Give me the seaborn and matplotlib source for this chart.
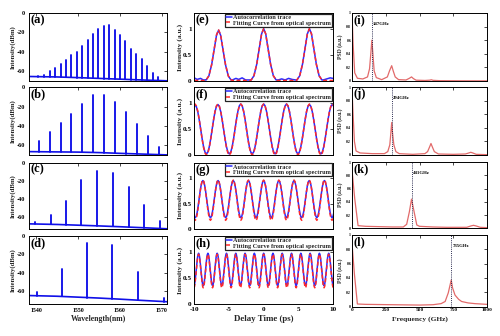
import numpy as np
import pandas as pd
import matplotlib
matplotlib.use("Agg")
import matplotlib.pyplot as plt
import seaborn as sns

# ====================== DATA ======================
# Column 1 : optical spectra, comb-line wavelengths (nm) and peak power (dBm)
wl_a = [1540.5, 1542.0, 1543.3, 1544.5, 1545.9, 1547.1, 1548.4, 1549.7, 1551.0, 1552.3, 1553.6, 1554.8,
        1556.1, 1557.4, 1558.7, 1560.0, 1561.3, 1562.6, 1563.9, 1565.2, 1566.5, 1567.8, 1569.1]
pk_a = [-65, -64, -60.6, -57, -53, -48.5, -44, -40, -34, -27.7, -21.8, -16.3,
        -13.9, -12.8, -17.3, -23.2, -29.5, -37, -42.3, -47.8, -54.8, -61.7, -66.5]
wl_b = [1540.7, 1543.3, 1545.9, 1548.4, 1551.0, 1553.6, 1556.2, 1558.8, 1561.4, 1564.0, 1566.6, 1569.2]
pk_b = [-56, -46.3, -37, -27.4, -17.2, -7.9, -7.5, -15, -26, -37.7, -50, -62]
wl_c = [1539.8, 1543.5, 1547.1, 1550.7, 1554.6, 1558.3, 1562.1, 1565.8, 1569.6]
pk_c = [-65.5, -57.5, -41.9, -18.9, -8.7, -10.9, -27.3, -46.2, -63.7]
wl_d = [1540.2, 1546.1, 1552.2, 1558.2, 1564.2, 1570.4]
pk_d = [-61.5, -35.8, -8.0, -9.8, -39.6, -68.0]
# noise floor readings
floor_x = [1538, 1545, 1550, 1555, 1560, 1565, 1572]
floor_a = [-65.8, -66.3, -67.0, -67.8, -68.6, -69.4, -70.4]
floor_b = [-66.5, -66.8, -67.0, -67.5, -68.3, -69.0, -70.0]
floor_c = [-67.3, -68.0, -68.8, -69.6, -70.5, -71.5, -72.9]
floor_d = [-65.2, -66.0, -67.0, -68.0, -69.2, -70.5, -72.2]
ybot_spec = [-70.5, -70.0, -73.0, -74.5]

# Column 2 : autocorrelation traces
# (e) isolated pulses: peak times, peak values, pulse profile
pk_t_e = [-6.5, 0.0, 6.6]
pk_v_e_blue = [0.97, 1.0, 1.0]
pk_v_e_red = [0.98, 1.0, 1.0]
prof_off_e = [-1.8, -1.4, -1.0, -0.6, -0.3, 0.0, 0.3, 0.6, 1.0, 1.4, 1.8]
prof_val_e = [0.02, 0.10, 0.32, 0.65, 0.90, 1.0, 0.90, 0.65, 0.32, 0.10, 0.02]
base_t_e_blue = [-10, -9.6, -9.1, -8.7, -8.4, -4.5, -4.0, -3.6, -3.1, -2.6, -2.1,
                 2.1, 2.6, 3.1, 3.6, 4.1, 4.6, 8.6, 9.1, 9.6, 10]
base_v_e_blue = [0.06, 0.03, 0.05, 0.02, 0.02, 0.02, 0.05, 0.03, 0.06, 0.02, 0.02,
                 0.02, 0.04, 0.02, 0.05, 0.03, 0.02, 0.02, 0.04, 0.06, 0.05]
base_t_e_red = [-10, -8.4, -4.5, -1.9, 1.9, 4.7, 8.5, 10]
base_v_e_red = [0.01, 0.01, 0.01, 0.01, 0.01, 0.01, 0.01, 0.01]
# (f)-(h) quasi-sinusoidal: maxima and minima (time, value)
pk_t_f = [-9.9, -6.6, -3.3, 0.0, 3.3, 6.6, 9.9]
tr_t_f = [-11.55, -8.25, -4.95, -1.65, 1.65, 4.95, 8.25, 11.55]
pk_v_f = {"blue": [0.96, 0.97, 0.98, 0.98, 0.98, 0.97, 0.97], "red": [0.98, 0.98, 0.98, 0.98, 0.98, 0.98, 0.98]}
tr_v_f = {"blue": [0.02] * 8, "red": [0.0] * 8}
pk_t_g = [-10.95, -8.76, -6.57, -4.38, -2.19, 0.0, 2.19, 4.38, 6.57, 8.76, 10.95]
tr_t_g = [-9.86, -7.67, -5.48, -3.29, -1.10, 1.10, 3.29, 5.48, 7.67, 9.86]
pk_v_g = {"blue": [0.95] * 11, "red": [0.96] * 11}
tr_v_g = {"blue": [0.22] * 10, "red": [0.17] * 10}
pk_t_h = [-9.38, -8.04, -6.70, -5.36, -4.02, -2.68, -1.34, 0.0, 1.34, 2.68, 4.02, 5.36, 6.70, 8.04, 9.38]
tr_t_h = [-10.05, -8.71, -7.37, -6.03, -4.69, -3.35, -2.01, -0.67, 0.67, 2.01, 3.35, 4.69, 6.03, 7.37, 8.71, 10.05]
pk_v_h = {"blue": [0.97] * 15, "red": [0.95] * 15}
tr_v_h = {"blue": [0.35] * 16, "red": [0.31] * 16}
# shape of a half cycle between an extreme and the next one (fraction of swing)
half_shape = [0.0, 0.038, 0.146, 0.309, 0.5, 0.691, 0.854, 0.962]

# Column 3 : PSD
f_i = [0, 8, 20, 40, 80, 115, 130, 140, 147, 154, 164, 180, 220, 262, 278, 294, 305, 320, 345, 400,
       425, 441, 455, 475, 540, 575, 588, 600, 650, 800, 1000]
p_i = [1.0, 0.55, 0.12, 0.04, 0.03, 0.06, 0.18, 0.42, 0.60, 0.42, 0.15, 0.05, 0.02, 0.06, 0.15, 0.225,
       0.15, 0.06, 0.02, 0.015, 0.04, 0.06, 0.035, 0.012, 0.008, 0.012, 0.018, 0.01, 0.005, 0.003, 0.002]
f_j = [0, 8, 18, 30, 60, 150, 240, 265, 280, 288, 294, 300, 310, 325, 350, 450, 540, 560, 575, 585,
       595, 610, 640, 750, 840, 865, 880, 895, 920, 1000]
p_j = [0.97, 0.6, 0.2, 0.06, 0.03, 0.02, 0.02, 0.05, 0.15, 0.33, 0.48, 0.33, 0.15, 0.05, 0.02, 0.01,
       0.02, 0.05, 0.12, 0.17, 0.12, 0.05, 0.015, 0.01, 0.015, 0.03, 0.04, 0.03, 0.01, 0.005]
f_k = [0, 20, 45, 100, 200, 300, 380, 405, 425, 441, 460, 480, 500, 600, 700, 850, 880, 900, 920, 950, 1000]
p_k = [0.88, 0.45, 0.04, 0.03, 0.025, 0.02, 0.02, 0.06, 0.25, 0.44, 0.25, 0.05, 0.03, 0.02, 0.015,
       0.015, 0.035, 0.045, 0.035, 0.015, 0.01]
f_l = [0, 18, 40, 100, 300, 500, 600, 660, 690, 713, 735, 745, 763, 790, 812, 860, 911, 1000]
p_l = [0.88, 0.45, 0.035, 0.03, 0.025, 0.02, 0.025, 0.04, 0.07, 0.19, 0.37, 0.26, 0.16, 0.10, 0.07,
       0.05, 0.04, 0.03]
rep_rates = [147, 294, 441, 735]
rep_labels = ["147GHz", "294GHz", "441GHz", "735GHz"]

panel_labels = ["(a)", "(b)", "(c)", "(d)", "(e)", "(f)", "(g)", "(h)", "(i)", "(j)", "(k)", "(l)"]

# ====================== STYLE ======================
sns.set_theme(style="white")
plt.rcParams['font.family'] = ['Liberation Serif', 'DejaVu Serif']
plt.rcParams['font.weight'] = 'bold'
plt.rcParams['axes.labelweight'] = 'bold'
plt.rcParams['axes.unicode_minus'] = False
plt.rcParams['axes.linewidth'] = 0.6
plt.rcParams['axes.edgecolor'] = 'black'

W, H = 500, 336
fig = plt.figure(figsize=(W / 100, H / 100), dpi=100)
fig.patch.set_facecolor('white')


def rect(l, r, t, b):
    return [l / W, 1 - b / H, (r - l) / W, (b - t) / H]


cols = [(29.3, 167), (194.3, 333), (352, 487)]
rows12 = [(13, 81), (87.3, 155), (162.7, 229), (236, 304)]
rows3 = [(13, 81), (87.3, 155), (162, 228.3), (235, 306.5)]

BLUE = '#1010e8'
ABLUE = '#2a2aff'
ARED = '#ff2a2a'
PRED = '#e26a6a'


def style(ax, lsize_x, lsize_y, padx, pady):
    ax.tick_params(direction='in', top=True, right=True, length=2, width=0.5,
                   labelsize=lsize_x, pad=padx, axis='x', colors='black')
    ax.tick_params(direction='in', top=True, right=True, length=2, width=0.5,
                   labelsize=lsize_y, pad=pady, axis='y', colors='black')
    for s in ax.spines.values():
        s.set_color('black')
        s.set_linewidth(0.7)
    ax.set_facecolor('white')


def panel_label(ax, txt):
    ax.text(0.01, 0.985, txt, transform=ax.transAxes, ha='left', va='top',
            fontsize=9, fontweight='bold', color='black')


# ---------------- column 1 ----------------
spec = [(wl_a, pk_a, floor_a), (wl_b, pk_b, floor_b), (wl_c, pk_c, floor_c), (wl_d, pk_d, floor_d)]
for i, (wl, pk, fl) in enumerate(spec):
    ax = fig.add_axes(rect(cols[0][0], cols[0][1], *rows12[i]))
    bottoms = np.interp(wl, floor_x, fl)
    df = pd.DataFrame({
        "wl": list(wl) + list(wl),
        "dbm": list(bottoms) + list(pk),
        "line": list(range(len(wl))) * 2,
    })
    sns.lineplot(data=df, x="wl", y="dbm", units="line", estimator=None, ax=ax,
                 color=BLUE, lw=1.35, legend=False)
    sns.lineplot(x=floor_x, y=fl, ax=ax, color=BLUE, lw=1.2, estimator=None)
    ax.set_xlim(1538.4, 1571.2)
    ax.set_ylim(ybot_spec[i], 0)
    ax.set_yticks([-60, -40, -20, 0])
    ax.set_yticklabels(["-60", "-40", "-20", "0"])
    ax.set_xticks([1540, 1550, 1560, 1570])
    style(ax, 4.2, 4.5, 3.2, 3.2)
    ax.set_ylabel("Intensity(dBm)", fontsize=4.9, fontweight='bold', va='center')
    ax.yaxis.set_label_coords(-0.118, 0.5)
    if i < 3:
        ax.set_xticklabels([])
        ax.set_xlabel("")
    else:
        ax.set_xticklabels(["1540", "1550", "1560", "1570"])
        ax.set_xlabel("Wavelength(nm)", fontsize=5.6, fontweight='bold', va='center')
        ax.xaxis.set_label_coords(0.5, -0.215)
    panel_label(ax, panel_labels[i])


# ---------------- column 2 ----------------
def wave(pk_t, pk_v, tr_t, tr_v):
    ext = sorted(list(zip(pk_t, pk_v)) + list(zip(tr_t, tr_v)))
    ts, vs = [], []
    for (t0, v0), (t1, v1) in zip(ext[:-1], ext[1:]):
        for k, h in enumerate(half_shape):
            ts.append(t0 + k / len(half_shape) * (t1 - t0))
            vs.append(v0 + h * (v1 - v0))
    ts.append(ext[-1][0])
    vs.append(ext[-1][1])
    return ts, vs


def pulses(pk_t, pk_v, base_t, base_v):
    ts = [p + o for p in pk_t for o in prof_off_e]
    vs = [pv * pr for pv in pk_v for pr in prof_val_e]
    return ts + list(base_t), vs + list(base_v)


traces = []
tb, vb = pulses(pk_t_e, pk_v_e_blue, base_t_e_blue, base_v_e_blue)
tr_, vr = pulses(pk_t_e, pk_v_e_red, base_t_e_red, base_v_e_red)
traces.append(((tb, vb), (tr_, vr)))
for (pt, pv, tt, tv) in [(pk_t_f, pk_v_f, tr_t_f, tr_v_f), (pk_t_g, pk_v_g, tr_t_g, tr_v_g),
                         (pk_t_h, pk_v_h, tr_t_h, tr_v_h)]:
    traces.append((wave(pt, pv["blue"], tt, tv["blue"]), wave(pt, pv["red"], tt, tv["red"])))

for i, ((tb, vb), (tr_, vr)) in enumerate(traces):
    ax = fig.add_axes(rect(cols[1][0], cols[1][1], *rows12[i]))
    sns.lineplot(x=tb, y=vb, ax=ax, color=ABLUE, lw=1.1, estimator=None, sort=True,
                 label="Autocorrelation trace")
    sns.lineplot(x=tr_, y=vr, ax=ax, color=ARED, lw=1.1, estimator=None, sort=True,
                 linestyle=(0, (2.6, 1.6)), label="Fitting Curve from optical spectrum")
    ax.set_xlim(-10, 10)
    ax.set_ylim(0, 1.3)
    ax.set_yticks([0, 0.5, 1])
    ax.set_yticklabels(["0", "0.5", "1"])
    ax.set_xticks([-10, -5, 0, 5, 10])
    style(ax, 5.2, 5.2, 2.5, 1.8)
    ax.set_ylabel("Intensity (a.u.)", fontsize=5.4, fontweight='bold', va='center')
    ax.yaxis.set_label_coords(-0.103, 0.5)
    if i < 3:
        ax.set_xticklabels([])
        ax.set_xlabel("")
    else:
        ax.set_xticklabels(["-10", "-5", "0", "5", "10"])
        ax.set_xlabel("Delay Time (ps)", fontsize=6.4, fontweight='bold', va='center')
        ax.xaxis.set_label_coords(0.5, -0.225)
    leg = ax.legend(loc='upper right', bbox_to_anchor=(0.995, 0.99),
                    handlelength=1.0, handletextpad=0.2, borderpad=0.15, labelspacing=0.05,
                    borderaxespad=0.0, frameon=True, fancybox=False, prop={'weight': 'bold', 'size': 4.5})
    leg.get_frame().set_edgecolor('#222222')
    leg.get_frame().set_linewidth(0.9)
    leg.get_frame().set_alpha(1.0)
    panel_label(ax, panel_labels[4 + i])

# ---------------- column 3 ----------------
psd = [(f_i, p_i), (f_j, p_j), (f_k, p_k), (f_l, p_l)]
for i, (f, p) in enumerate(psd):
    ax = fig.add_axes(rect(cols[2][0], cols[2][1], *rows3[i]))
    sns.lineplot(x=f, y=p, ax=ax, color=PRED, lw=0.9, estimator=None)
    ax.axvline(rep_rates[i], color='#2a2a50', lw=0.7, linestyle=(0, (1, 1.2)))
    ax.text(rep_rates[i] + 8, 0.84, rep_labels[i], fontsize=3.4, fontweight='bold',
            ha='left', va='center', color='black')
    ax.set_xlim(0, 1000)
    ax.set_ylim(0, 1)
    ax.set_yticks([0, 0.2, 0.4, 0.6, 0.8, 1])
    ax.set_yticklabels(["0", "0.2", "0.4", "0.6", "0.8", "1"])
    ax.set_xticks([0, 250, 500, 750, 1000])
    style(ax, 3.8, 2.8, 1.2, 0.6)
    ax.set_ylabel("PSD (a.u.)", fontsize=4.1, fontweight='bold', va='center')
    ax.yaxis.set_label_coords(-0.085, 0.5)
    if i < 3:
        ax.set_xticklabels([])
        ax.set_xlabel("")
    else:
        ax.set_xticklabels(["0", "250", "500", "750", "1000"])
        ax.set_xlabel("Frequency (GHz)", fontsize=5.4, fontweight='bold', va='center')
        ax.xaxis.set_label_coords(0.5, -0.18)
    panel_label(ax, panel_labels[8 + i])

fig.savefig("out.png", dpi=100, facecolor='white')
